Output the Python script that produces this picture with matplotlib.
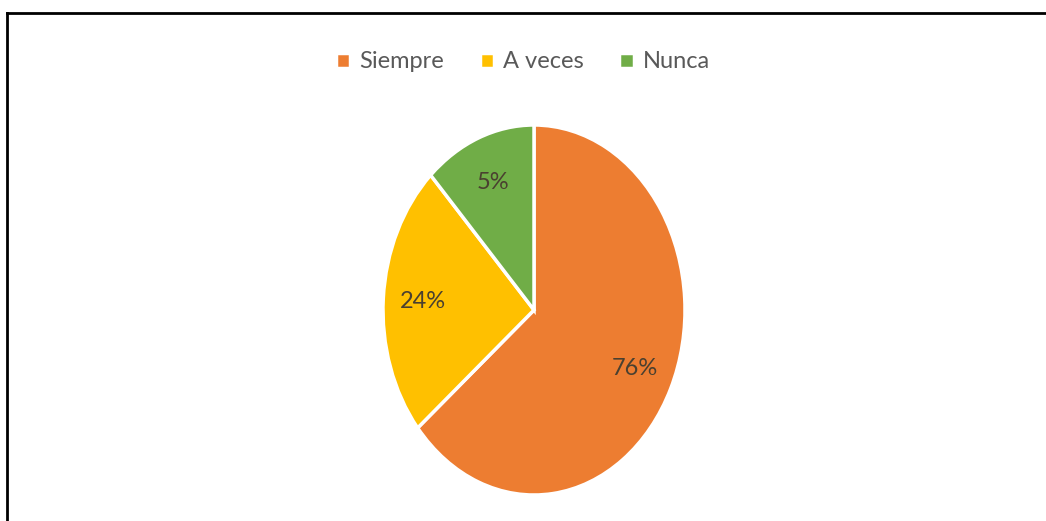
import matplotlib
matplotlib.use("Agg")
import matplotlib.pyplot as plt
from matplotlib.lines import Line2D

categories = ["Siempre", "A veces", "Nunca"]
values = [64, 24, 12]
label_texts = ["76%", "24%", "5%"]
colors = ["#ED7D31", "#FFC000", "#70AD47"]

fig = plt.figure(figsize=(10.46, 5.21), dpi=100)
fig.patch.set_facecolor("white")

ax = fig.add_axes([383/1046, 26/521, 302/1046, 370/521])
it = iter(label_texts)
wedges, texts, autotexts = ax.pie(
    values, colors=colors, startangle=90, counterclock=False,
    autopct=lambda p: next(it), pctdistance=0.74,
    wedgeprops=dict(edgecolor="white", linewidth=2.5),
    textprops=dict(color="#4a4030", fontsize=17, family="Lato"),
)
ax.set_aspect("auto")
ax.set_xlim(-1.0, 1.0)
ax.set_ylim(-1.0, 1.0)
ax.axis("off")

fig.legend(wedges, categories, loc="center", bbox_to_anchor=(0.5, 1 - 62/521),
           ncol=3, frameon=False, prop=dict(family="Lato", size=17),
           handlelength=0.6, handleheight=0.6,
           handletextpad=0.4, columnspacing=1.5, labelcolor="#595959")

fig.add_artist(Line2D([7/1046, 1.0], [1 - 13/521, 1 - 13/521], color="black", lw=2, transform=fig.transFigure))
fig.add_artist(Line2D([7/1046, 7/1046], [0, 1 - 13/521], color="black", lw=2, transform=fig.transFigure))

fig.savefig("out.png", dpi=100)
